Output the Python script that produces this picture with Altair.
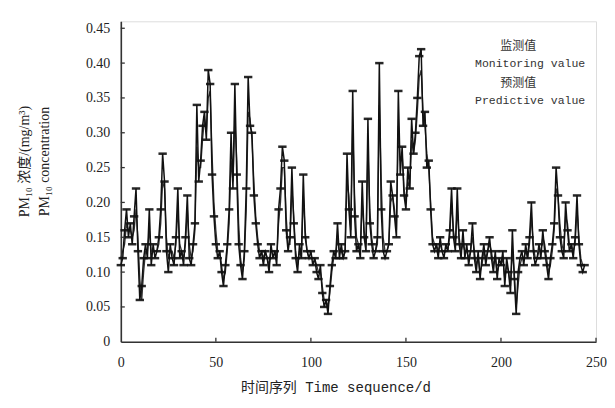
import altair as alt
import pandas as pd

days = list(range(245))

monitoring = [
    0.11, 0.12, 0.16, 0.19, 0.15, 0.17, 0.14, 0.18, 0.22, 0.13,
    0.06, 0.08, 0.12, 0.14, 0.12, 0.19, 0.11, 0.14, 0.12, 0.13,
    0.15, 0.19, 0.27, 0.23, 0.13, 0.10, 0.14, 0.12, 0.11, 0.15,
    0.22, 0.12, 0.13, 0.11, 0.15, 0.21, 0.12, 0.11, 0.14, 0.17,
    0.34, 0.23, 0.26, 0.31, 0.33, 0.29, 0.39, 0.37, 0.24, 0.18,
    0.14, 0.12, 0.13, 0.10, 0.08, 0.11, 0.14, 0.19, 0.30, 0.22,
    0.37, 0.24, 0.14, 0.11, 0.09, 0.13, 0.22, 0.38, 0.31, 0.30,
    0.21, 0.17, 0.14, 0.12, 0.13, 0.11, 0.13, 0.12, 0.10, 0.14,
    0.12, 0.13, 0.11, 0.19, 0.22, 0.28, 0.26, 0.16, 0.13, 0.15,
    0.25, 0.17, 0.12, 0.10, 0.14, 0.12, 0.24, 0.15, 0.13, 0.12,
    0.13, 0.11, 0.12, 0.10, 0.09, 0.11, 0.07, 0.05, 0.06, 0.04,
    0.08, 0.11, 0.13, 0.12, 0.17, 0.12, 0.14, 0.12, 0.13, 0.27,
    0.19, 0.15, 0.36, 0.18, 0.13, 0.14, 0.12, 0.23, 0.15, 0.13,
    0.32, 0.17, 0.14, 0.12, 0.13, 0.15, 0.40, 0.19, 0.13, 0.12,
    0.13, 0.14, 0.23, 0.21, 0.18, 0.15, 0.36, 0.24, 0.28, 0.21,
    0.19, 0.25, 0.22, 0.32, 0.27, 0.30, 0.35, 0.41, 0.42, 0.31,
    0.33, 0.25, 0.26, 0.19, 0.14, 0.13, 0.14, 0.12, 0.15, 0.13,
    0.12, 0.14, 0.13, 0.16, 0.22, 0.15, 0.13, 0.22, 0.14, 0.12,
    0.16, 0.12, 0.14, 0.11, 0.13, 0.17, 0.12, 0.10, 0.13, 0.09,
    0.12, 0.14, 0.11, 0.13, 0.15, 0.12, 0.10, 0.13, 0.09, 0.12,
    0.11, 0.13, 0.08, 0.12, 0.10, 0.07, 0.16, 0.09, 0.04, 0.10,
    0.12, 0.13, 0.11, 0.14, 0.12, 0.15, 0.20, 0.13, 0.11, 0.12,
    0.14, 0.12, 0.16, 0.13, 0.11, 0.09, 0.12, 0.14, 0.17, 0.25,
    0.21, 0.15, 0.13, 0.12, 0.20, 0.16, 0.13, 0.14, 0.12, 0.15,
    0.21, 0.14, 0.11, 0.10, 0.11,
]

predictive = [
    0.12, 0.13, 0.14, 0.17, 0.16, 0.16, 0.15, 0.16, 0.19, 0.15,
    0.09, 0.06, 0.10, 0.13, 0.13, 0.16, 0.13, 0.13, 0.13, 0.13,
    0.14, 0.17, 0.23, 0.22, 0.15, 0.12, 0.13, 0.13, 0.12, 0.14,
    0.19, 0.14, 0.13, 0.12, 0.14, 0.19, 0.14, 0.12, 0.13, 0.16,
    0.28, 0.25, 0.25, 0.29, 0.32, 0.30, 0.35, 0.36, 0.27, 0.20,
    0.16, 0.13, 0.13, 0.11, 0.09, 0.10, 0.13, 0.17, 0.26, 0.23,
    0.32, 0.26, 0.17, 0.12, 0.10, 0.12, 0.19, 0.33, 0.32, 0.29,
    0.23, 0.18, 0.15, 0.13, 0.13, 0.12, 0.13, 0.12, 0.11, 0.13,
    0.13, 0.13, 0.12, 0.17, 0.20, 0.25, 0.25, 0.18, 0.14, 0.14,
    0.22, 0.18, 0.13, 0.11, 0.13, 0.12, 0.21, 0.16, 0.13, 0.12,
    0.12, 0.12, 0.12, 0.11, 0.10, 0.10, 0.08, 0.06, 0.06, 0.05,
    0.07, 0.10, 0.12, 0.12, 0.15, 0.13, 0.13, 0.12, 0.13, 0.23,
    0.21, 0.16, 0.31, 0.21, 0.15, 0.14, 0.13, 0.20, 0.16, 0.14,
    0.28, 0.19, 0.15, 0.13, 0.13, 0.14, 0.34, 0.23, 0.15, 0.13,
    0.13, 0.14, 0.20, 0.21, 0.19, 0.16, 0.31, 0.26, 0.27, 0.22,
    0.20, 0.23, 0.22, 0.29, 0.27, 0.29, 0.33, 0.38, 0.39, 0.33,
    0.31, 0.27, 0.25, 0.20, 0.15, 0.14, 0.14, 0.13, 0.14, 0.13,
    0.13, 0.13, 0.13, 0.15, 0.20, 0.16, 0.14, 0.19, 0.15, 0.13,
    0.14, 0.13, 0.13, 0.12, 0.13, 0.15, 0.13, 0.11, 0.12, 0.10,
    0.11, 0.13, 0.12, 0.13, 0.14, 0.13, 0.11, 0.12, 0.10, 0.11,
    0.11, 0.12, 0.09, 0.11, 0.10, 0.08, 0.13, 0.10, 0.05, 0.08,
    0.11, 0.12, 0.12, 0.13, 0.12, 0.14, 0.18, 0.14, 0.12, 0.12,
    0.13, 0.13, 0.15, 0.14, 0.12, 0.10, 0.11, 0.13, 0.16, 0.22,
    0.21, 0.17, 0.14, 0.13, 0.18, 0.17, 0.14, 0.14, 0.13, 0.14,
    0.19, 0.15, 0.12, 0.11, 0.11,
]

y_ticks = [0, 0.05, 0.10, 0.15, 0.20, 0.25, 0.30, 0.35, 0.40, 0.45]
x_ticks = [0, 50, 100, 150, 200, 250]
legend_lines = ["监测值", "Monitoring value", "预测值", "Predictive value"]

df = pd.DataFrame({"day": days, "monitoring": monitoring, "predictive": predictive})
ytick_df = pd.DataFrame({"v": y_ticks[1:]})
xtick_df = pd.DataFrame({"d": x_ticks[1:]})

W, H = 476, 321
SERIF = "Liberation Serif, Noto Sans CJK SC"
MONO = "Liberation Mono, Noto Sans CJK SC"

xs = alt.Scale(domain=[0, 250], nice=False, zero=False)
ys = alt.Scale(domain=[0, 0.46], nice=False)

xaxis = alt.Axis(
    values=x_ticks, ticks=False, grid=False, domainColor="#333", domainWidth=1.6,
    labelFont=SERIF, labelFontSize=14, labelColor="#222", labelPadding=14,
    labelFlush=False,
    title="时间序列 Time sequence/d", titleFont=MONO, titleFontSize=14,
    titleFontWeight="normal", titleColor="#222", titleX=215, titleY=46,
    titleBaseline="middle", titleAlign="center",
)
yaxis = alt.Axis(
    values=y_ticks, ticks=False, grid=False, domainColor="#333", domainWidth=1.6,
    labelFont=SERIF, labelFontSize=14, labelColor="#222", labelPadding=11,
    labelExpr="datum.value == 0 ? '0' : format(datum.value, '.2f')",
    title=["PM₁₀ 浓度/(mg/m³)", "PM₁₀ concentration"], titleFont=SERIF,
    titleFontSize=14, titleFontWeight="normal", titleColor="#222",
    titleAngle=-90, titleBaseline="top", titleAlign="center",
    titleX=-103, titleY=140, titleLineHeight=20,
)

base = alt.Chart(df)

pred_line = base.mark_line(color="#333", strokeWidth=1.3).encode(
    x=alt.X("day:Q", scale=xs, axis=xaxis),
    y=alt.Y("predictive:Q", scale=ys, axis=yaxis),
)
mon_line = base.mark_line(color="#111", strokeWidth=1.5).encode(
    x=alt.X("day:Q", scale=xs, axis=xaxis),
    y=alt.Y("monitoring:Q", scale=ys, axis=yaxis),
)
mon_pts = base.mark_point(
    shape="M-1,-0.3L1,-0.3L1,0.3L-1,0.3Z", filled=True, color="#111", size=70, opacity=0.9
).encode(
    x=alt.X("day:Q", scale=xs, axis=xaxis),
    y=alt.Y("monitoring:Q", scale=ys, axis=yaxis),
)

ytick_marks = alt.Chart(ytick_df).mark_rule(color="#333", strokeWidth=1.3).encode(
    y=alt.Y("v:Q", scale=ys, axis=yaxis), x=alt.value(0), x2=alt.value(4)
)
xtick_marks = alt.Chart(xtick_df).mark_rule(color="#333", strokeWidth=1.3).encode(
    x=alt.X("d:Q", scale=xs, axis=xaxis), y=alt.value(H), y2=alt.value(H - 4)
)

leg_pos = [(398, 25), (410, 43), (398, 62), (410, 80)]
legend_layers = []
for (txt, (lx, ly)) in zip(legend_lines, leg_pos):
    is_cjk = not txt[0].isascii()
    legend_layers.append(
        alt.Chart(pd.DataFrame({"t": [txt]})).mark_text(
            font=SERIF if is_cjk else MONO, fontSize=12 if is_cjk else 11.5,
            color="#333", align="center", baseline="middle",
        ).encode(text="t:N", x=alt.value(lx), y=alt.value(ly))
    )

chart = alt.layer(
    pred_line, mon_line, mon_pts, ytick_marks, xtick_marks, *legend_layers
).properties(
    width=W, height=H,
    padding={"left": 10, "top": 12, "right": 0, "bottom": 0},
).configure_view(stroke=None).configure(background="white")

chart.save("out.html", embed_options={"renderer": "svg", "actions": False})
